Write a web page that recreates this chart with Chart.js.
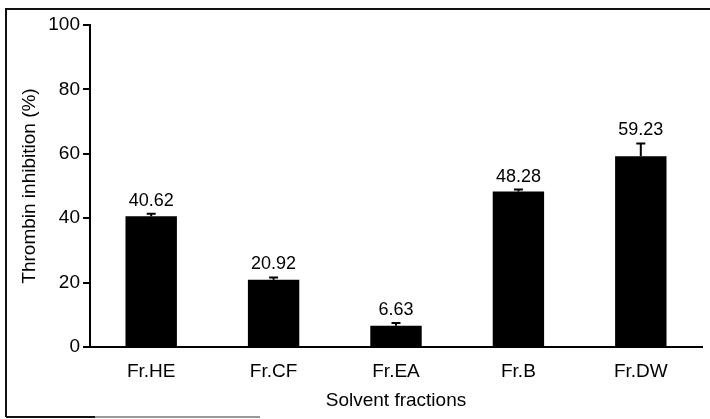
<!DOCTYPE html>
<html>
<head>
<meta charset="utf-8">
<script src="https://cdn.jsdelivr.net/npm/chart.js@4"></script>
<style>
  html, body { margin: 0; padding: 0; background: #fff; }
  #wrap { width: 710px; height: 419px; position: relative; }
</style>
</head>
<body>
<div id="wrap"><canvas id="chart"></canvas></div>
<script>
const fractions = ['Fr.HE', 'Fr.CF', 'Fr.EA', 'Fr.B', 'Fr.DW'];
const inhibition = [40.62, 20.92, 6.63, 48.28, 59.23];
const errors = [0.8, 0.7, 0.8, 0.6, 4.0];
const yTicks = [0, 20, 40, 60, 80, 100];

const FONT = 'Liberation Sans, Arial, sans-serif';

// black frame around the figure (scanned figure border)
const framePlugin = {
  id: 'frame',
  beforeDraw(chart) {
    const ctx = chart.ctx;
    ctx.save();
    ctx.fillStyle = '#fff';
    ctx.fillRect(0, 0, chart.width, chart.height);
    ctx.strokeStyle = '#111';
    ctx.lineWidth = 2;
    ctx.beginPath();
    ctx.moveTo(6, 417);
    ctx.lineTo(6, 9);
    ctx.lineTo(710, 9);
    ctx.moveTo(6, 417);
    ctx.lineTo(95, 417);
    ctx.stroke();
    ctx.strokeStyle = '#999';
    ctx.beginPath();
    ctx.moveTo(95, 417);
    ctx.lineTo(260, 417);
    ctx.stroke();
    ctx.restore();
  }
};

// error bars and value labels
const errorPlugin = {
  id: 'errorBars',
  afterDatasetsDraw(chart) {
    const ctx = chart.ctx;
    const xs = chart.scales.x;
    const ys = chart.scales.y;
    ctx.save();
    ctx.strokeStyle = '#000';
    ctx.lineWidth = 2;
    ctx.fillStyle = '#000';
    ctx.font = '18px ' + FONT;
    ctx.textAlign = 'center';
    ctx.textBaseline = 'bottom';
    inhibition.forEach((v, i) => {
      const x = xs.getPixelForValue(i);
      const yv = ys.getPixelForValue(v);
      const yt = ys.getPixelForValue(v + errors[i]);
      ctx.beginPath();
      ctx.moveTo(x, yv);
      ctx.lineTo(x, yt);
      ctx.moveTo(x - 4.5, yt);
      ctx.lineTo(x + 4.5, yt);
      ctx.stroke();
      ctx.fillText(v.toFixed(2), x, yt - 4);
    });
    ctx.restore();
  }
};

new Chart(document.getElementById('chart'), {
  type: 'bar',
  data: {
    labels: fractions,
    datasets: [{
      label: 'Thrombin inhibition',
      data: inhibition,
      backgroundColor: '#000',
      borderWidth: 0,
      barPercentage: 0.42,
      categoryPercentage: 1.0
    }]
  },
  options: {
    responsive: true,
    maintainAspectRatio: false,
    animation: false,
    layout: { padding: { left: 0, right: 8, top: 25, bottom: 0 } },
    plugins: {
      legend: { display: false },
      tooltip: { enabled: false }
    },
    scales: {
      x: {
        grid: { display: false, drawTicks: false },
        border: { display: true, color: '#000', width: 2 },
        ticks: { color: '#000', font: { family: FONT, size: 19 }, padding: 13 },
        title: {
          display: true,
          text: 'Solvent fractions',
          color: '#000',
          font: { family: FONT, size: 19 },
          padding: { top: 0, bottom: 7 }
        },
        afterFit(scale) { scale.height = 72; }
      },
      y: {
        min: 0,
        max: 100,
        afterBuildTicks(scale) { scale.ticks = yTicks.map(v => ({ value: v })); },
        grid: { drawOnChartArea: false, drawTicks: true, tickLength: 7, color: '#000', lineWidth: 2 },
        border: { display: true, color: '#000', width: 2 },
        ticks: { color: '#000', font: { family: FONT, size: 19 }, padding: 3 },
        title: {
          display: true,
          text: 'Thrombin inhibition (%)',
          color: '#000',
          font: { family: FONT, size: 19 },
          padding: { top: 18, bottom: 0 }
        },
        afterFit(scale) { scale.width = 90; }
      }
    }
  },
  plugins: [framePlugin, errorPlugin]
});
</script>
</body>
</html>
